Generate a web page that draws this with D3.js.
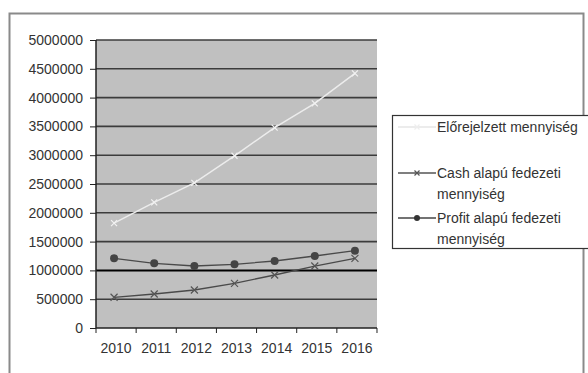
<!DOCTYPE html>
<html>
<head>
<meta charset="utf-8">
<script src="https://cdn.jsdelivr.net/npm/d3@7"></script>
<style>
  body { margin: 0; background: #fff; }
  svg text { font-family: "Liberation Sans", Arial, sans-serif; fill: #333; }
</style>
</head>
<body>
<div id="chart"></div>
<script>
'use strict';

// data
var years = ['2010', '2011', '2012', '2013', '2014', '2015', '2016'];
var forecast = [1820000, 2180000, 2520000, 2990000, 3480000, 3900000, 4420000];
var cashBased = [533000, 590000, 660000, 776000, 920000, 1076000, 1210000];
var profitBased = [1210000, 1123000, 1076000, 1106000, 1163000, 1250000, 1342000];
var yTicks = [0, 500000, 1000000, 1500000, 2000000, 2500000, 3000000, 3500000, 4000000, 4500000, 5000000];
var seriesNames = [['Előrejelzett mennyiség'], ['Cash alapú fedezeti', 'mennyiség'], ['Profit alapú fedezeti', 'mennyiség']];

var width = 588, height = 373;
var plot = {left: 96, right: 377, top: 40, bottom: 328};

var svg = d3.select('#chart').append('svg').attr('width', width).attr('height', height);

// outer frame of the chart
svg.append('rect').attr('x', 9.5).attr('y', 13.5).attr('width', 574).attr('height', 380)
  .attr('fill', 'none').attr('stroke', '#8a8a8a').attr('stroke-width', 2);

var x = d3.scaleBand().domain(years).range([plot.left, plot.right]);
var y = d3.scaleLinear().domain([0, 5000000]).range([plot.bottom, plot.top]);

svg.append('rect').attr('x', plot.left).attr('y', plot.top)
  .attr('width', plot.right - plot.left).attr('height', plot.bottom - plot.top)
  .attr('fill', '#c0c0c0');

// gridlines
svg.append('g').selectAll('line')
  .data(yTicks.filter(function(d) { return d > 0; }))
  .enter().append('line')
  .attr('x1', plot.left).attr('x2', plot.right)
  .attr('y1', function(d) { return y(d); }).attr('y2', function(d) { return y(d); })
  .attr('stroke', function(d) { return d === 1000000 ? '#000' : '#3c3c3c'; })
  .attr('stroke-width', function(d) { return d === 1000000 ? 2 : 1.6; });

// axes
var yAxis = svg.append('g').attr('transform', 'translate(' + plot.left + ',0)')
  .call(d3.axisLeft(y).tickValues(yTicks).tickSize(6).tickPadding(7).tickFormat(d3.format('d')));
var xAxis = svg.append('g').attr('transform', 'translate(0,' + plot.bottom + ')')
  .call(d3.axisBottom(x).tickSize(0).tickPadding(15));
xAxis.selectAll('.tick').append('line')
  .attr('x1', x.bandwidth() / 2).attr('x2', x.bandwidth() / 2)
  .attr('y1', 0).attr('y2', 5).attr('stroke', '#222');
xAxis.append('line').attr('x1', plot.left).attr('x2', plot.left).attr('y1', 0).attr('y2', 5).attr('stroke', '#222');
[yAxis, xAxis].forEach(function(a) {
  a.select('.domain').attr('stroke', '#222').attr('stroke-width', 1.5);
  a.selectAll('.tick line').attr('stroke', '#222');
  a.selectAll('text').attr('font-size', 14).attr('fill', '#333');
});
yAxis.select('.domain').attr('d', 'M0,' + plot.bottom + 'V' + plot.top);
xAxis.select('.domain').attr('d', 'M' + plot.left + ',0H' + plot.right);

var cx = function(d, i) { return x(years[i]) + x.bandwidth() / 2 - 2; };
var line = d3.line().x(cx).y(function(d) { return y(d); });

function drawCross(g, color, size) {
  g.append('path')
    .attr('d', 'M' + -size + ',' + -size + 'L' + size + ',' + size + 'M' + size + ',' + -size + 'L' + -size + ',' + size)
    .attr('stroke', color).attr('stroke-width', 1.2).attr('fill', 'none');
}

// forecast series
svg.append('path').datum(forecast).attr('d', line)
  .attr('fill', 'none').attr('stroke', '#ececec').attr('stroke-width', 1.5);
svg.append('g').selectAll('g').data(forecast).enter().append('g')
  .attr('transform', function(d, i) { return 'translate(' + cx(d, i) + ',' + y(d) + ')'; })
  .each(function() { drawCross(d3.select(this), '#f2f2f2', 3); });

// cash based series
svg.append('path').datum(cashBased).attr('d', line)
  .attr('fill', 'none').attr('stroke', '#4a4a4a').attr('stroke-width', 1.3);
svg.append('g').selectAll('g').data(cashBased).enter().append('g')
  .attr('transform', function(d, i) { return 'translate(' + cx(d, i) + ',' + y(d) + ')'; })
  .each(function() { drawCross(d3.select(this), '#555', 3.5); });

// profit based series
svg.append('path').datum(profitBased).attr('d', line)
  .attr('fill', 'none').attr('stroke', '#4a4a4a').attr('stroke-width', 1.3);
svg.append('g').selectAll('circle').data(profitBased).enter().append('circle')
  .attr('cx', cx).attr('cy', function(d) { return y(d); }).attr('r', 4)
  .attr('fill', '#444');

// legend
var legend = svg.append('g');
legend.append('rect').attr('x', 392.5).attr('y', 115.5).attr('width', 200).attr('height', 133)
  .attr('fill', '#fff').attr('stroke', '#333').attr('stroke-width', 1.2);
var rowY = [127, 173, 218];
var rowColor = ['#e6e6e6', '#555', '#444'];
rowY.forEach(function(ry, i) {
  legend.append('line').attr('x1', 398).attr('x2', 436).attr('y1', ry).attr('y2', ry)
    .attr('stroke', rowColor[i]).attr('stroke-width', 1.3);
  if (i === 0) {
    drawCross(legend.append('g').attr('transform', 'translate(417,' + ry + ')'), '#eee', 2.5);
  } else if (i === 1) {
    drawCross(legend.append('g').attr('transform', 'translate(417,' + ry + ')'), '#555', 2.5);
  } else {
    legend.append('circle').attr('cx', 417).attr('cy', ry).attr('r', 3).attr('fill', '#333');
  }
  var t = legend.append('text').attr('x', 437).attr('y', ry + 5).attr('font-size', 14);
  seriesNames[i].forEach(function(s, k) {
    t.append('tspan').attr('x', 437).attr('dy', k === 0 ? 0 : 21).text(s);
  });
});
</script>
</body>
</html>
